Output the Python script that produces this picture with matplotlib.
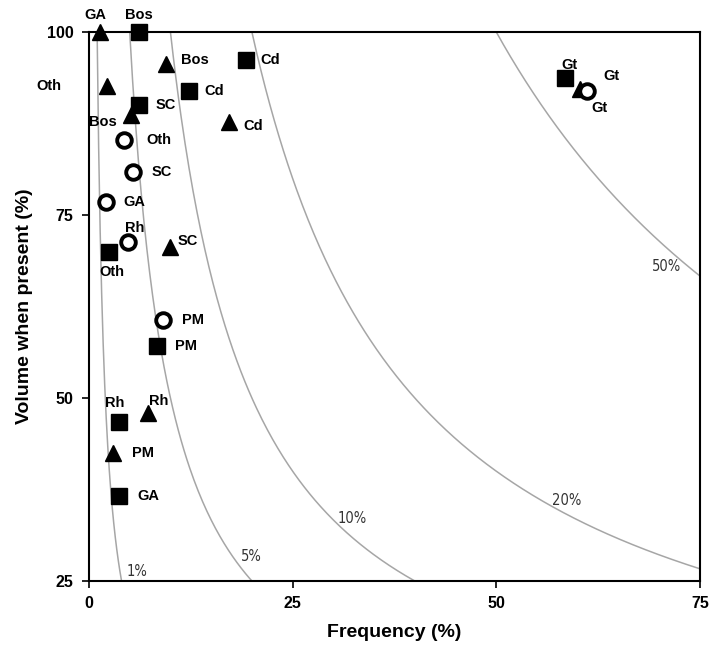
import numpy as np
import matplotlib.pyplot as plt

plt.rcParams['font.family'] = ['Liberation Sans', 'DejaVu Sans']

# Square markers
sq_x = [6.1, 19.3, 12.3, 6.1, 2.5, 8.35, 3.7, 3.7, 58.4]
sq_y = [100, 96.2, 91.9, 90.0, 69.9, 57.1, 46.7, 36.6, 93.7]
sq_lab = ['Bos', 'Cd', 'Cd', 'SC', 'Oth', 'PM', 'Rh', 'GA', 'Gt']

# Triangle markers
tri_x = [1.35, 9.45, 2.2, 5.1, 17.2, 9.9, 7.2, 2.95, 60.3]
tri_y = [100, 95.6, 92.6, 88.7, 87.7, 70.6, 48.0, 42.5, 92.2]
tri_lab = ['GA', 'Bos', 'Oth', 'Bos', 'Cd', 'SC', 'Rh', 'PM', 'Gt']

# Open circle markers
cir_x = [4.3, 5.4, 2.1, 4.8, 9.1, 61.1]
cir_y = [85.2, 80.9, 76.8, 71.3, 60.7, 92.0]
cir_lab = ['Oth', 'SC', 'GA', 'Rh', 'PM', 'Gt']

# iso-lines: frequency x volume = level
levels = [1, 5, 10, 20, 50]
level_lab = ['1%', '5%', '10%', '20%', '50%']

# label placement (pixel offsets, alignment)
sq_off = [(0, 17, 'center'), (14, 0, 'left'), (15, 0, 'left'), (17, 0, 'left'),
          (3, -20, 'center'), (18, 0, 'left'), (-4, 19, 'center'), (18, 0, 'left'),
          (5, 13, 'center')]
tri_off = [(-5, 17, 'center'), (15, 4, 'left'), (-58, 0, 'center'), (-28, -7, 'center'),
           (14, -4, 'left'), (8, 6, 'left'), (1, 12, 'left'), (19, 0, 'left'),
           (31, 13, 'center')]
cir_off = [(22, 0, 'left'), (19, 0, 'left'), (17, 0, 'left'), (7, 14, 'center'),
           (19, 0, 'left'), (13, -17, 'center')]
level_pos = [(5.9, 26.3), (19.9, 28.4), (32.3, 33.6), (58.7, 36.0), (70.9, 68.0)]

fig = plt.figure(figsize=(7.09, 6.48), dpi=100)
ax = fig.add_axes([0.1255, 0.1034, 0.8617, 0.8472])

for lv in levels:
    xs = np.linspace(lv, 75, 400)
    ys = lv * 100 / xs
    ax.plot(xs, ys, color='#a6a6a6', lw=1.1, zorder=1)

for lab, (px, py) in zip(level_lab, level_pos):
    ax.text(px, py, lab, fontsize=10.5, color='#333333', ha='center', va='center',
            family='DejaVu Sans', fontstretch='condensed')

ax.plot(sq_x, sq_y, 's', ms=12, color='black', ls='none', clip_on=False, zorder=3)
ax.plot(tri_x, tri_y, '^', ms=12, color='black', ls='none', clip_on=False, zorder=3)
ax.plot(cir_x, cir_y, 'o', ms=10.5, mfc='white', mec='black', mew=2.8, ls='none',
        clip_on=False, zorder=4)

for xs, ys, labs, offs in [(sq_x, sq_y, sq_lab, sq_off), (tri_x, tri_y, tri_lab, tri_off),
                           (cir_x, cir_y, cir_lab, cir_off)]:
    for x, y, lab, (dx, dy, ha) in zip(xs, ys, labs, offs):
        ax.annotate(lab, (x, y), xytext=(dx, dy), textcoords='offset pixels',
                    ha=ha, va='center', fontsize=10.5, fontweight='bold',
                    annotation_clip=False)

ax.set_xlim(0, 75)
ax.set_ylim(25, 100)
ax.set_xticks([0, 25, 50, 75])
ax.set_yticks([25, 50, 75, 100])
ax.tick_params(direction='out', length=5, width=1.2, labelsize=11.5, pad=6)
for t in ax.get_xticklabels() + ax.get_yticklabels():
    t.set_fontweight('bold')
for s in ax.spines.values():
    s.set_linewidth(1.5)

ax.set_xlabel('Frequency (%)', fontsize=14, fontweight='bold', labelpad=9)
ax.set_ylabel('Volume when present (%)', fontsize=14, fontweight='bold', labelpad=10)

fig.savefig('out.png', dpi=100)
plt.close()
